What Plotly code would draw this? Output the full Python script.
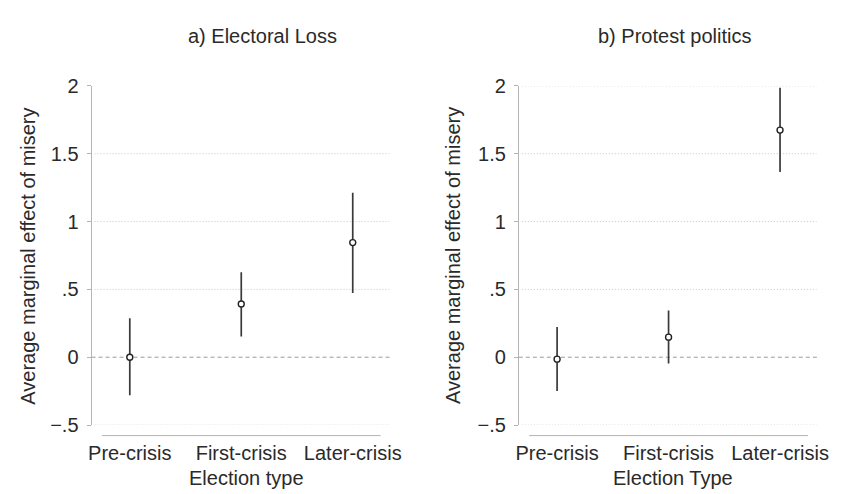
import plotly.graph_objects as go

categories = ["Pre-crisis", "First-crisis", "Later-crisis"]
cat_pos = [1, 2, 3]

# Panel a) Electoral Loss
loss_est = [0.0, 0.392, 0.845]
loss_lo = [-0.28, 0.153, 0.474]
loss_hi = [0.287, 0.627, 1.213]

# Panel b) Protest politics
protest_est = [-0.014, 0.148, 1.674]
protest_lo = [-0.249, -0.047, 1.366]
protest_hi = [0.223, 0.345, 1.986]

ytick_vals = [-0.5, 0, 0.5, 1, 1.5, 2]
ytick_text = ["\u2212.5", "0", ".5", "1", "1.5", "2"]
grid_left = [-0.5, 0.5, 1, 1.5]
grid_right = [-0.5, 0.5, 1, 1.5, 2]

W, H = 848, 494
FONT = "Liberation Sans, Arial, Helvetica, sans-serif"
TXT = "#2a2a2a"
INK = "#3a3a3a"
AX = "#b4b4b4"


def px_x(p):
    return p / W


def px_y(p):
    return 1 - p / H


fig = go.Figure()

for est, lo, hi, xa, ya in [
    (loss_est, loss_lo, loss_hi, "x", "y"),
    (protest_est, protest_lo, protest_hi, "x2", "y2"),
]:
    fig.add_trace(go.Scatter(
        x=cat_pos, y=est, mode="markers", xaxis=xa, yaxis=ya,
        marker=dict(symbol="circle", size=6, color="white", line=dict(width=1.4, color="#222222")),
        error_y=dict(type="data", symmetric=False,
                     array=[h - e for h, e in zip(hi, est)],
                     arrayminus=[e - l for e, l in zip(est, lo)],
                     thickness=1.7, width=0, color=INK),
        showlegend=False, hoverinfo="skip",
    ))

ydom = [px_y(425), px_y(70)]
xrange_ = [0.657, 3.327]

common_x = dict(range=xrange_, tickvals=cat_pos, ticktext=categories, showgrid=False,
                zeroline=False, showline=False, ticks="", ticklabelstandoff=14,
                tickfont=dict(family=FONT, size=20, color=TXT), fixedrange=True)
common_y = dict(range=[-0.5, 2.0], domain=ydom, tickvals=ytick_vals, ticktext=ytick_text,
                showgrid=False, zeroline=False, showline=True, linecolor=AX, linewidth=1,
                ticks="outside", ticklen=4, tickcolor=AX, tickwidth=1,
                ticklabelstandoff=4,
                tickfont=dict(family=FONT, size=20, color=TXT), fixedrange=True)

fig.update_layout(
    width=W, height=H,
    margin=dict(l=0, r=0, t=0, b=0),
    paper_bgcolor="white", plot_bgcolor="white",
    font=dict(family=FONT, size=20, color=TXT),
    xaxis=dict(domain=[px_x(82), px_x(385)], anchor="y", **common_x),
    xaxis2=dict(domain=[px_x(517), px_x(820)], anchor="y2", **common_x),
    yaxis=dict(anchor="x", **common_y),
    yaxis2=dict(anchor="x2", **common_y),
)

for xa, ya, grid in [("x", "y", grid_left), ("x2", "y2", grid_right)]:
    for g in grid:
        fig.add_shape(type="line", xref=f"{xa} domain", yref=ya, x0=0.01, x1=1, y0=g, y1=g,
                      line=dict(color="#c6c6c6", width=1, dash="1px,2px"), layer="below")
    fig.add_shape(type="line", xref=f"{xa} domain", yref=ya, x0=0, x1=1.01, y0=0, y1=0,
                  line=dict(color="#9a9a9a", width=1, dash="4px,3px"), layer="below")
    fig.add_shape(type="line", xref=xa, yref="paper", x0=0.75, x1=3.25,
                  y0=px_y(436), y1=px_y(436), line=dict(color=AX, width=1))

annotations = [
    dict(text="a) Electoral Loss", x=px_x(256), y=px_y(18)),
    dict(text="b) Protest politics", x=px_x(675), y=px_y(18)),
    dict(text="Election type", x=px_x(240), y=px_y(480)),
    dict(text="Election Type", x=px_x(674), y=px_y(480)),
    dict(text="Average marginal effect of misery", x=px_x(17), y=px_y(248), textangle=-90),
    dict(text="Average marginal effect of misery", x=px_x(450), y=px_y(248), textangle=-90),
]
for a in annotations:
    fig.add_annotation(xref="paper", yref="paper", showarrow=False,
                       xanchor="center", yanchor="middle",
                       font=dict(family=FONT, size=20, color=TXT), **a)

fig.write_html("out.html")
